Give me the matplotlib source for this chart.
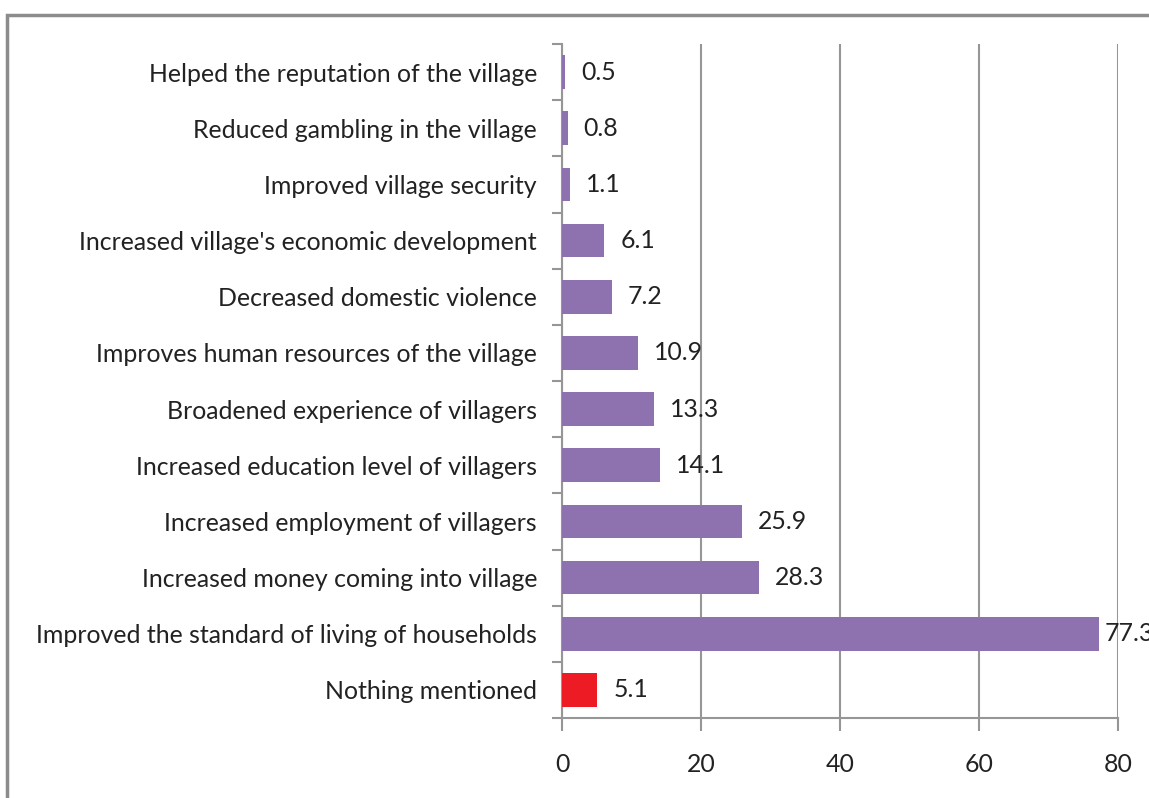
import matplotlib.pyplot as plt
from matplotlib.patches import Rectangle
from matplotlib.ticker import FixedLocator

# categories top to bottom as in the picture
labels = [
    "Helped the reputation of the village",
    "Reduced gambling in the village",
    "Improved village security",
    "Increased village's economic development",
    "Decreased domestic violence",
    "Improves human resources of the village",
    "Broadened experience of villagers",
    "Increased education level of villagers",
    "Increased employment of villagers",
    "Increased money coming into village",
    "Improved the standard of living of households",
    "Nothing mentioned",
]
values = [0.5, 0.8, 1.1, 6.1, 7.2, 10.9, 13.3, 14.1, 25.9, 28.3, 77.3, 5.1]
colors = ["#8E72B0"] * 11 + ["#ED1C24"]
xticks = [0, 20, 40, 60, 80]

plt.rcParams['font.family'] = ['Lato', 'DejaVu Sans']
grey = "#969696"
txt = "#222222"
fs = 17.9

fig = plt.figure(figsize=(11.49, 7.98), dpi=100)
ax = fig.add_axes([562/1149, 1-718/798, 556/1149, 674/798])

n = len(labels)
ypos = list(range(n - 1, -1, -1))
ax.barh(ypos, values, height=0.6, color=colors, zorder=3)

for y, v in zip(ypos, values):
    # labels sit right of the bar, pulled in at the plot edge
    ax.text(min(v + 2.3, 78.1), y, "%.1f" % v, va='center', ha='left',
            fontsize=fs, color=txt, zorder=4, clip_on=False)

ax.set_xlim(0, 80)
ax.set_ylim(-0.5, n - 0.5)
ax.set_xticks(xticks)
ax.set_xticklabels([str(t) for t in xticks], fontsize=fs, color=txt)
ax.tick_params(axis='x', length=9, width=1.5, color=grey, pad=16)

ax.set_yticks(ypos)
ax.set_yticklabels(labels, fontsize=fs, color=txt)
ax.tick_params(axis='y', which='major', length=0, pad=18)
ax.yaxis.set_minor_locator(FixedLocator([i - 0.5 for i in range(n + 1)]))
ax.tick_params(axis='y', which='minor', length=7, width=1.5, color=grey)

ax.grid(axis='x', color=grey, linewidth=1.5, zorder=0)
for s in ['top', 'right']:
    ax.spines[s].set_visible(False)
for s in ['left', 'bottom']:
    ax.spines[s].set_color(grey)
    ax.spines[s].set_linewidth(1.5)

# outer chart border, cut off at the right and bottom
fig.patches.append(Rectangle((7/1149, -0.05), 1.1, 1 - 15/798 + 0.05,
                             transform=fig.transFigure, fill=False,
                             edgecolor="#8c8c8c", linewidth=2.5))

fig.savefig("out.png", dpi=100)
